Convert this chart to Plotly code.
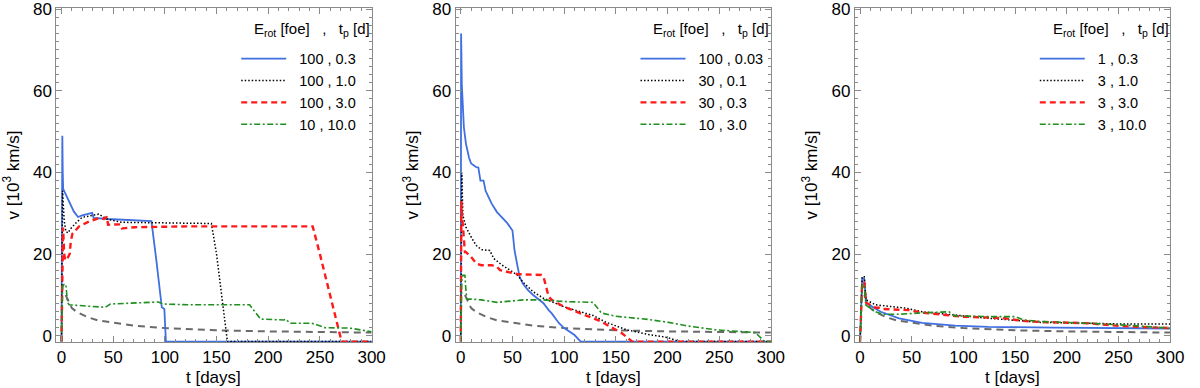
import plotly.graph_objects as go

# ---------------- data ----------------
# shared reference (grey dashed) curve
t_ref = [4, 6, 8, 10, 15, 20, 25, 35, 50, 70, 100, 150, 200, 250, 300]
v_ref = [10, 8.8, 7.6, 6.8, 5.8, 5.1, 4.6, 3.8, 3.2, 2.5, 1.9, 1.35, 1.1, 0.9, 0.8]

# Panel 1
p1_labels = ["100 , 0.3", "100 , 1.0", "100 , 3.0", "10 , 10.0"]
p1_blue_t = [0, 0.8, 1.2, 1.6, 4, 7, 12, 16, 20, 29.7, 31, 45, 70, 87, 92, 97, 99.5, 101, 300]
p1_blue_v = [-1.4, 49, 40, 36, 34.7, 33.1, 30.4, 29.1, 29.5, 30.1, 28.9, 28.6, 28.4, 28.1, 18, 7, 6.6, -1.4, -1.4]
p1_black_t = [0, 1, 2.6, 4.2, 6.7, 8, 13.8, 20, 36, 44, 58, 100, 145, 150, 155, 160.5, 300]
p1_black_v = [-1.4, 35.5, 28.2, 25.5, 25.2, 26, 27.6, 29, 29.8, 28.6, 27.8, 27.6, 27.5, 20, 10, -1.4, -1.4]
p1_red_t = [0, 0.8, 1.5, 2.6, 3.5, 5.6, 8, 9, 10.6, 17, 26.6, 36, 41, 44, 45, 57, 58.5, 71, 122, 200, 243, 250, 260, 271, 300]
p1_red_v = [-1.4, 26, 26.5, 20.1, 18.5, 18.9, 20.1, 23.2, 25, 26.8, 28, 28.8, 28.6, 29.2, 27.2, 27.3, 26.3, 26.6, 26.8, 26.8, 26.8, 20, 10, -1.4, -1.4]
p1_green_t = [0, 1, 2.6, 4.2, 5.8, 7.4, 29.7, 42.5, 47.3, 71.3, 93.7, 98, 122, 182, 192.7, 215, 217, 221, 242, 247, 255, 279, 300]
p1_green_v = [-1.4, 12, 12.6, 12.6, 8.2, 7.6, 7.2, 7.0, 7.8, 8.1, 8.3, 7.8, 7.6, 7.6, 4.1, 3.9, 4.1, 3.1, 3.1, 2.7, 2.0, 1.9, 1.0]

# Panel 2
p2_labels = ["100 , 0.03", "30 , 0.1", "30 , 0.3", "10 , 3.0"]
p2_blue_t = [0, 0.3, 1, 2, 3, 5, 8, 10, 15, 17, 18, 19, 22, 23, 24, 27, 30, 35, 40, 45, 50, 52, 55, 57, 60, 65, 70, 78, 80, 85, 88, 95, 100, 110, 116, 300]
p2_blue_v = [-1.4, 74, 61.5, 54, 51, 47, 43.6, 42.2, 41.3, 41.2, 39, 38, 38, 36.5, 35.5, 33.9, 32.3, 30.3, 29, 27.6, 25.8, 20.9, 16.9, 14.4, 12.8, 11.2, 10, 8.4, 8, 6.3, 5.5, 3.1, 1.9, 0.2, -1.4, -1.4]
p2_black_t = [0, 1, 2, 5, 10, 15, 20, 28, 32, 40, 50, 55, 60, 70, 80, 100, 128, 140, 160, 180, 200, 212, 300]
p2_black_v = [-1.4, 40, 29.5, 26.6, 24.2, 22.1, 21.1, 20.9, 18.9, 17.3, 15.7, 14.8, 13.2, 10.8, 9.2, 7.1, 5.0, 3.4, 1.5, 0.4, -0.4, -1.4, -1.4]
p2_red_t = [0, 0.5, 1, 2, 3, 4, 5, 10, 15, 20, 30, 35, 38, 45, 50, 55, 78, 80, 85, 88, 100, 120, 128, 135, 147, 155, 166, 300]
p2_red_v = [-1.4, 33, 30, 27, 24.5, 20.5, 20.5, 19.3, 17.7, 17.3, 17.3, 16.9, 16.1, 15.7, 15.3, 15.1, 14.9, 14.5, 9.6, 8.8, 7.1, 5.1, 4.3, 3.6, 1.9, 0.8, -1.4, -1.4]
p2_green_t = [0, 1, 2, 4, 5, 6, 10, 20, 35, 40, 60, 80, 100, 128, 133, 136, 150, 182, 201, 220, 246, 271, 285, 294, 300]
p2_green_v = [-1.4, 14, 14.8, 14.8, 11, 9, 9, 8.8, 8.2, 8.3, 8.8, 8.8, 8.4, 8.2, 6.5, 5.6, 4.8, 4.0, 3.3, 2.4, 1.5, 1.1, 0.8, -1.4, -1.4]

# Panel 3
p3_labels = ["1 , 0.3", "3 , 1.0", "3 , 3.0", "3 , 10.0"]
p3_blue_t = [0, 1.5, 2, 4, 5.8, 10, 20, 37.7, 60, 92, 124, 188, 252, 300]
p3_blue_v = [-1.4, 13, 14, 14, 8.2, 7.4, 5.9, 4.3, 3.2, 2.5, 2.2, 2.0, 1.9, 1.8]
p3_black_t = [0, 1.5, 2, 4, 5.8, 15, 28, 44, 60, 76, 98.5, 124, 156, 175, 220, 252, 300]
p3_black_v = [-1.4, 13.5, 14.5, 14.5, 8.8, 7.6, 7.3, 6.8, 5.9, 5.5, 4.9, 4.3, 3.7, 3.3, 3.1, 2.9, 2.9]
p3_red_t = [0, 1.5, 2, 4, 5.8, 15, 19, 21, 38, 47, 60, 86, 98, 124, 140, 156, 175, 220, 252, 300]
p3_red_v = [-1.4, 12.5, 13, 13, 8.1, 6.9, 6.9, 6.6, 6.5, 6.3, 5.7, 5.1, 4.7, 4.5, 4.3, 3.7, 3.4, 3.1, 2.4, 1.9]
p3_green_t = [0, 1.5, 2, 4, 5.8, 15, 22, 38, 50, 66, 86, 92, 124, 150, 158, 175, 220, 252, 300]
p3_green_v = [-1.4, 12, 12.5, 12.5, 7.5, 5.9, 5.3, 5.3, 5.5, 5.7, 5.9, 4.9, 4.7, 4.7, 3.9, 3.5, 3.1, 2.7, 1.9]

NB = "\u00a0"
legend_title = "E<sub>rot</sub> [foe]" + NB * 3 + "," + NB * 3 + "t<sub>p</sub> [d]"
x_title = "t [days]"
y_title = "v [10<sup>3</sup> km/s]"
x_ticks = [0, 50, 100, 150, 200, 250, 300]
y_ticks = [0, 20, 40, 60, 80]

# ---------------- styles ----------------
BLUE = "#3f6fe0"
RED = "#ff1a1a"
GREEN = "#1f8f1f"
GREY = "#6a6a6a"
AXC = "#8a8a8a"
FONT = "Arial, Liberation Sans, sans-serif"

styles = [
    dict(color=BLUE, width=1.8, dash="solid"),
    dict(color="black", width=1.5, dash="1.5px,2px"),
    dict(color=RED, width=2.4, dash="6px,4px"),
    dict(color=GREEN, width=1.6, dash="6px,2.5px,2px,2.5px"),
]

panels = [
    (p1_labels, [(p1_blue_t, p1_blue_v), (p1_black_t, p1_black_v), (p1_red_t, p1_red_v), (p1_green_t, p1_green_v)]),
    (p2_labels, [(p2_blue_t, p2_blue_v), (p2_black_t, p2_black_v), (p2_red_t, p2_red_v), (p2_green_t, p2_green_v)]),
    (p3_labels, [(p3_blue_t, p3_blue_v), (p3_black_t, p3_black_v), (p3_red_t, p3_red_v), (p3_green_t, p3_green_v)]),
]

W, H = 1200, 388
MT, MB = 6, 46
PH = H - MT - MB
left_px = [57, 461, 865]
right_px = [376, 780, 1184]

fig = go.Figure()
for i, (labels, series) in enumerate(panels):
    sfx = "" if i == 0 else str(i + 1)
    xa, ya = "x" + sfx, "y" + sfx
    leg = "legend" + sfx
    fig.add_trace(go.Scatter(x=t_ref, y=v_ref, mode="lines", xaxis=xa, yaxis=ya,
                             line=dict(color=GREY, width=2, dash="7px,5px"),
                             showlegend=False, hoverinfo="skip"))
    for lab, (tt, vv), st in zip(labels, series, styles):
        fig.add_trace(go.Scatter(x=tt, y=vv, mode="lines", name=NB * 2 + lab, xaxis=xa, yaxis=ya,
                                 line=st, legend=leg))

layout = dict(
    width=W, height=H, margin=dict(l=0, r=0, t=MT, b=MB),
    plot_bgcolor="white", paper_bgcolor="white",
    font=dict(family=FONT, color="black"),
)
annotations = []
for i in range(3):
    sfx = "" if i == 0 else str(i + 1)
    dom = [left_px[i] / W, right_px[i] / W]
    layout["xaxis" + sfx] = dict(
        domain=dom, anchor="y" + sfx, range=[-5, 300], tickvals=x_ticks,
        ticks="inside", ticklen=6, tickcolor=AXC, showline=True, linecolor=AXC,
        linewidth=1, mirror="allticks", showgrid=False, zeroline=False,
        minor=dict(tick0=0, dtick=10, ticks="inside", ticklen=3, tickcolor=AXC, showgrid=False),
        tickfont=dict(size=17, family=FONT, color="black"),
        ticklabeloverflow="allow",
    )
    layout["yaxis" + sfx] = dict(
        domain=[0, 1], anchor="x" + sfx, range=[-1.5, 80.25], tickvals=y_ticks,
        ticks="inside", ticklen=6, tickcolor=AXC, showline=True, linecolor=AXC,
        linewidth=1, mirror="allticks", showgrid=False, zeroline=False,
        minor=dict(tick0=0, dtick=2, ticks="inside", ticklen=3, tickcolor=AXC, showgrid=False),
        tickfont=dict(size=17, family=FONT, color="black"),
        ticklabeloverflow="allow",
        title=dict(text=y_title, font=dict(size=17, family=FONT, color="black"), standoff=9),
    )
    layout["legend" + sfx] = dict(
        x=(right_px[i] - 137) / W, xanchor="left", y=1 - 35 / PH, yanchor="top",
        xref="paper", yref="paper",
        bgcolor="rgba(0,0,0,0)", borderwidth=0,
        font=dict(size=14.5, family=FONT, color="black"),
        itemwidth=45, tracegroupgap=0,
    )
    # x axis title
    annotations.append(dict(
        text=x_title, xref="paper", yref="paper",
        x=(left_px[i] + right_px[i]) / 2 / W, y=(H - MB - 378) / PH,
        xanchor="center", yanchor="middle", showarrow=False,
        font=dict(size=17, family=FONT, color="black"),
    ))
    # legend title
    annotations.append(dict(
        text=legend_title, xref="paper", yref="paper",
        x=(right_px[i] - 121) / W, y=1 - (28 - MT) / PH,
        xanchor="left", yanchor="middle", showarrow=False,
        font=dict(size=15, family=FONT, color="black"),
    ))
layout["annotations"] = annotations
fig.update_layout(**layout)
fig.write_html("out.html", config={"displayModeBar": False},
               post_script="document.body.style.margin='0px';")
